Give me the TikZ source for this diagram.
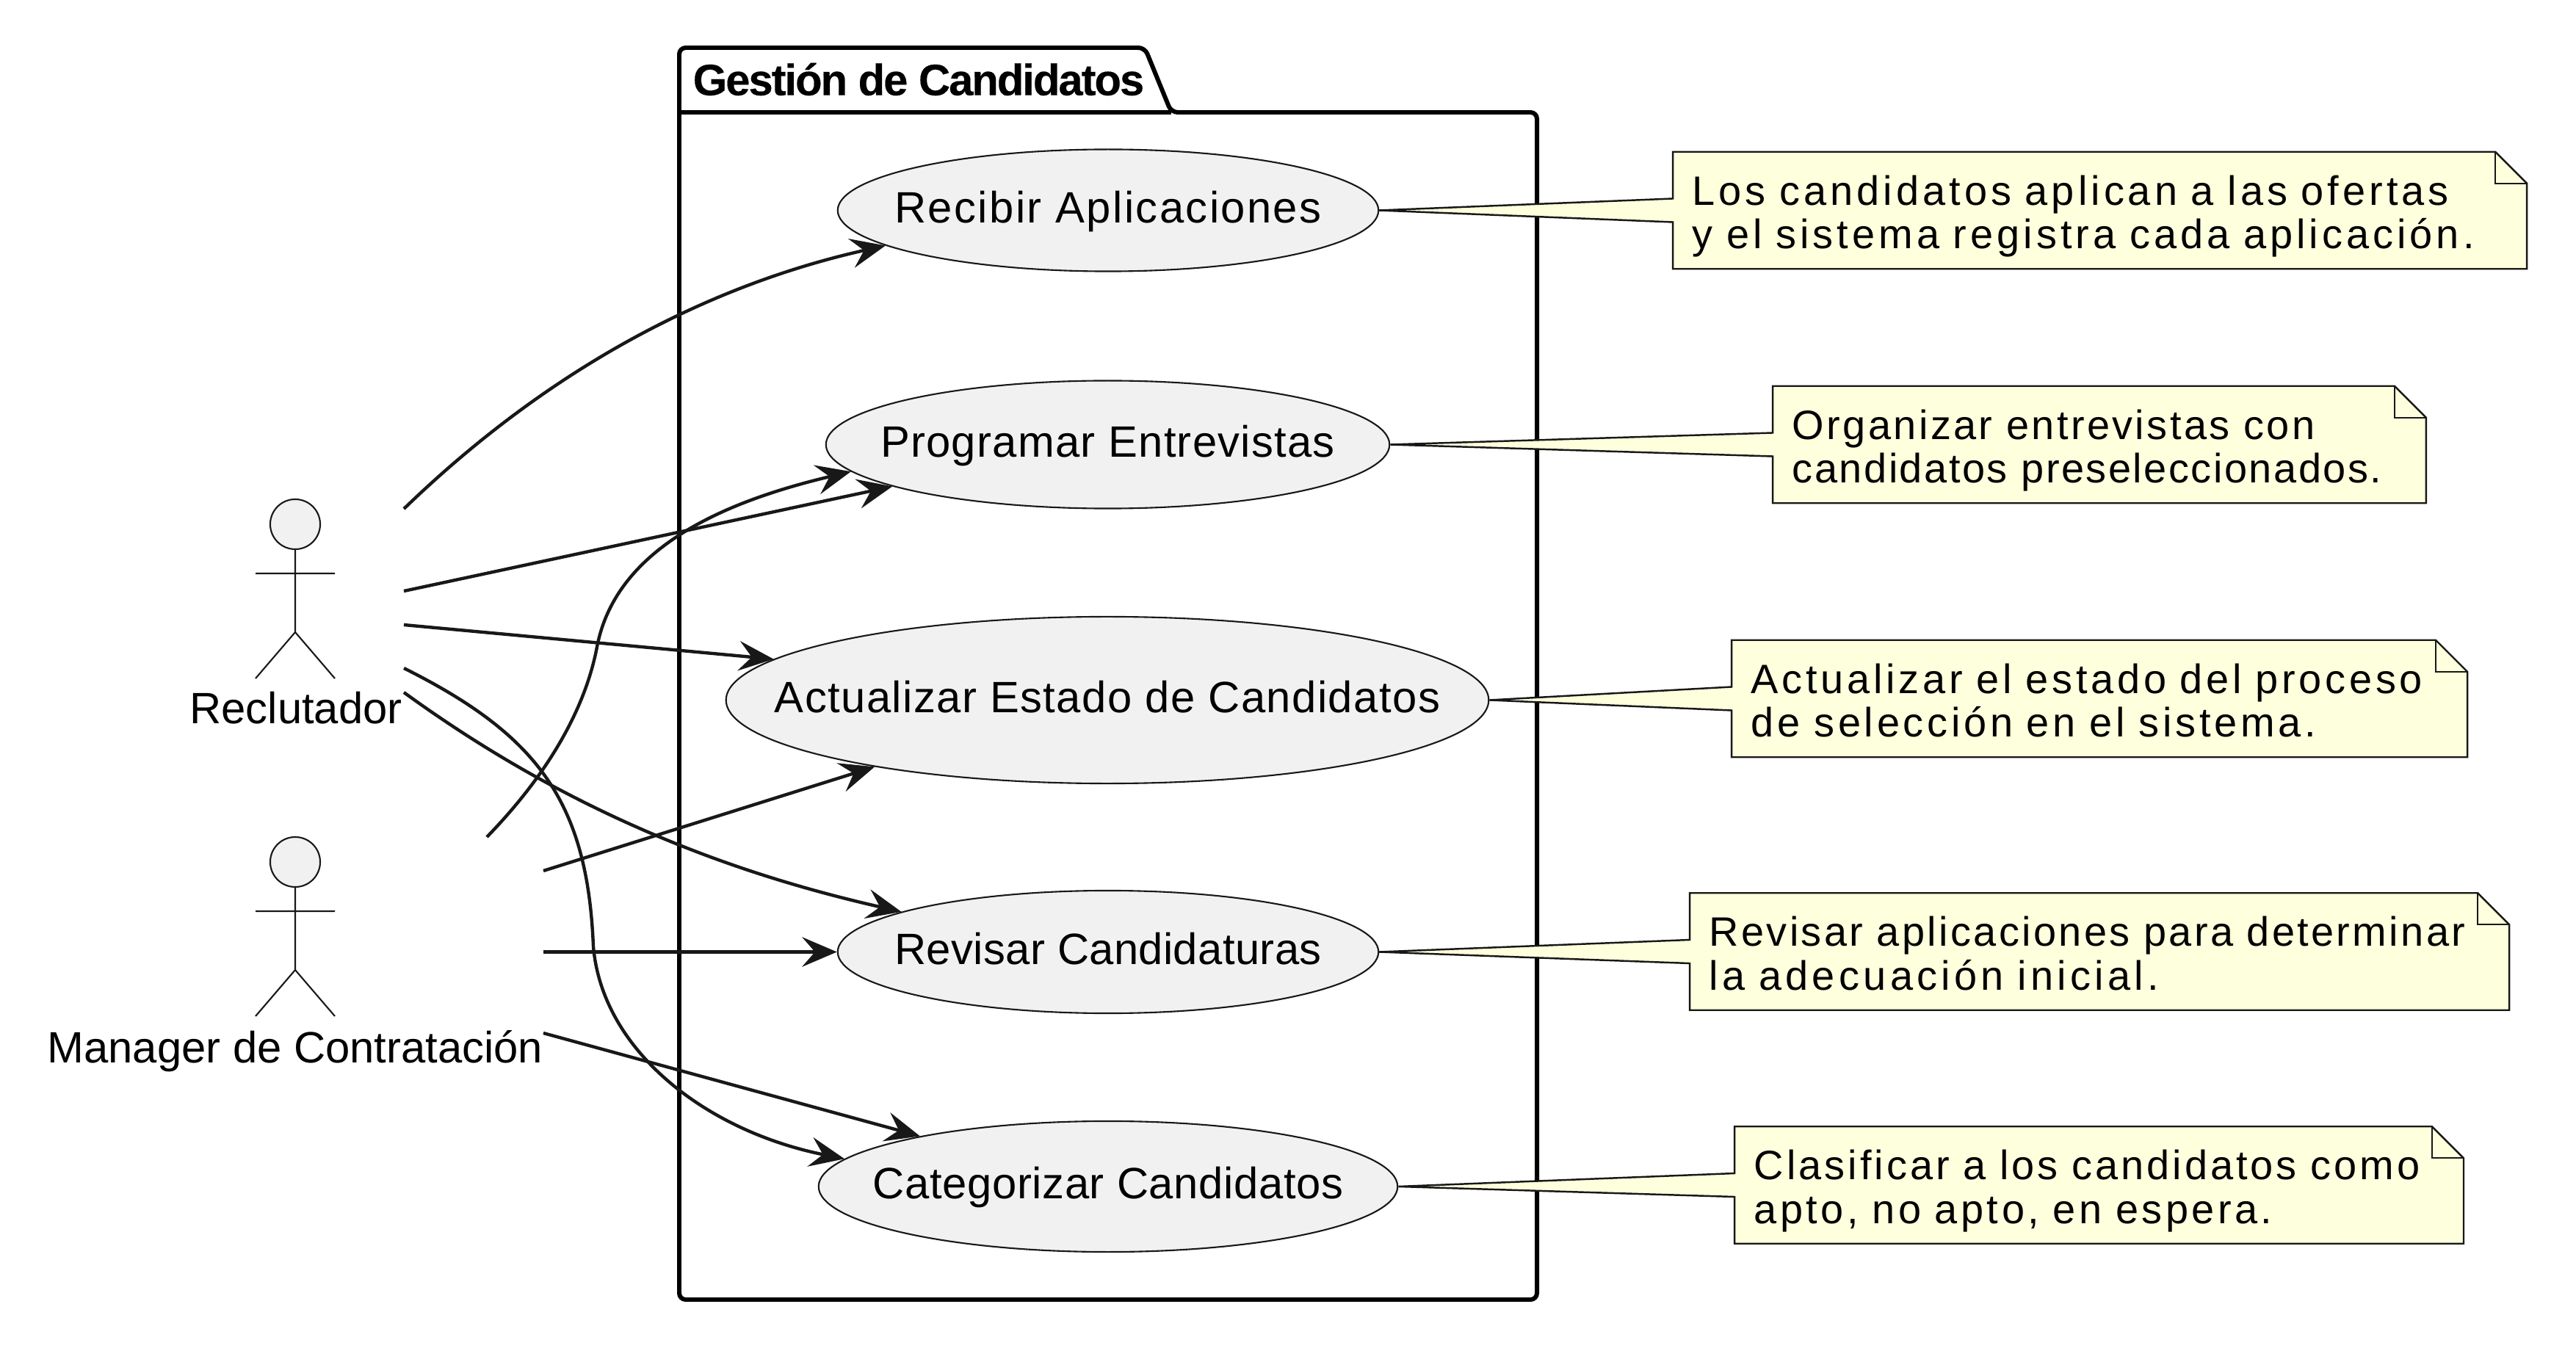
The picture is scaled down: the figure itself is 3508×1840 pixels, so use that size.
\documentclass[tikz,border=0pt]{standalone}
\usepackage{fontspec}
\setmainfont{Liberation Sans}
\usetikzlibrary{arrows.meta,shapes.geometric}
\definecolor{linegray}{HTML}{181818}
\definecolor{usefill}{HTML}{F1F1F1}
\definecolor{notefill}{HTML}{FEFFDD}
\pgfdeclarelayer{packlayer}
\pgfdeclarelayer{notelayer}
\pgfsetlayers{packlayer,notelayer,main}
\tikzset{
  usecase/.style={ellipse,draw=linegray,fill=usefill,line width=0.6pt,inner sep=-1.2cm,text height=13pt,text depth=3.6pt,
    font=\fontsize{17}{20}\selectfont\addfontfeature{LetterSpace=#1}},
  actorname/.style={inner sep=0pt,font=\fontsize{17}{20}\selectfont},
  notebox/.style 2 args={anchor=west,align=left,inner xsep=0.26cm,inner ysep=0pt,minimum height=1.58cm,text width=#1,
    text height=12pt,text depth=16pt,
    font=\fontsize{15.9}{16.8}\selectfont\addfontfeature{LetterSpace=#2}},
  noteline/.style={draw=linegray,fill=notefill,line width=0.7pt,line join=miter},
  link/.style={draw=linegray,line width=1.25pt,-{Stealth[length=13.5pt,width=11.5pt,inset=5pt]}},
  actorfig/.pic={
    \draw[linegray,line width=0.6pt,fill=usefill] (0,-34) circle(0.34cm);
    \draw[linegray,line width=0.6pt] (0,0) -- (0,113) (-54,33) -- (54,33) (-54,176) -- (0,113) -- (54,176);
  }
}
\begin{document}
\begin{tikzpicture}[x=0.01cm,y=-0.01cm]
  \useasboundingbox (0,0) rectangle (3508,1840);
  % package
  \begin{pgfonlayer}{packlayer}
    \draw[black,line width=1.7pt,rounded corners=2.5pt] (925,153) -- (925,65) -- (1559,65) -- (1595,153) -- (2093,153) -- (2093,1770) -- (925,1770) -- cycle;
    \draw[black,line width=1.7pt] (925,153) -- (1595,153);
  \end{pgfonlayer}
  \node[inner sep=0pt,anchor=west,font=\fontsize{17}{20}\selectfont\bfseries\addfontfeature{LetterSpace=-3.4,FakeBold=0.25}] (pkgtitle) at (943,108) {Gestión de Candidatos};
  % use cases
  \node[usecase=4,minimum width=7.36cm,minimum height=1.66cm] (recibir) at (1509,286.5) {Recibir Aplicaciones};
  \node[usecase=2.1,minimum width=7.67cm,minimum height=1.74cm] (programar) at (1508.5,605.5) {Programar Entrevistas};
  \node[usecase=2.4,minimum width=10.38cm,minimum height=2.27cm] (actualizar) at (1508,953.5) {Actualizar Estado de Candidatos};
  \node[usecase=0.6,minimum width=7.36cm,minimum height=1.67cm] (revisar) at (1509,1296.5) {Revisar Candidaturas};
  \node[usecase=1.1,minimum width=7.88cm,minimum height=1.78cm] (categorizar) at (1509,1616) {Categorizar Candidatos};
  % actors
  \pic at (402,748) {actorfig};
  \pic at (402,1208) {actorfig};
  \node[actorname] (reclutador) at (403,964) {Reclutador};
  \node[actorname] (manager) at (402,1432) {Manager de Contratación};
  \coordinate (recA) at (550,693);
  \coordinate (recB) at (550,805);
  \coordinate (recC) at (550,851);
  \coordinate (recD) at (550,910);
  \coordinate (recE) at (550,943);
  \coordinate (manA) at (663,1140);
  \coordinate (manB) at (740,1186);
  \coordinate (manC) at (740,1296.5);
  \coordinate (manD) at (740,1407);
  % connectors
  \draw[link] (recA) .. controls (760,490) and (980,385) .. (recibir.189.4);
  \draw[link] (recB) -- (programar.191.7);
  \draw[link] (recC) -- (actualizar.173.9);
  \draw[link] (recE) .. controls (780,1110) and (1000,1190) .. (revisar.169.4);
  \draw[link] (recD) .. controls (730,1000) and (800,1090) .. (808,1289) .. controls (820,1430) and (960,1540) .. (categorizar.174.3);
  \draw[link] (manA) .. controls (760,1040) and (800,950) .. (813,881) .. controls (840,740) and (1000,680) .. (programar.186);
  \draw[link] (manB) -- (actualizar.196);
  \draw[link] (manC) -- (revisar.west);
  \draw[link] (manD) -- (categorizar.165.8);
  % notes
  \node[notebox={11.09cm}{9}] (noteA) at (2278,286.5) {Los candidatos aplican a las ofertas\\y el sistema registra cada aplicación.};
  \node[notebox={8.36cm}{6.1}] (noteB) at (2414,605.5) {Organizar entrevistas con\\\addfontfeature{LetterSpace=4.5}candidatos preseleccionados.};
  \node[notebox={9.48cm}{8.5}] (noteC) at (2358,951.5) {Actualizar el estado del proceso\\de selección en el sistema.};
  \node[notebox={10.62cm}{6}] (noteD) at (2301,1296) {Revisar aplicaciones para determinar\\\addfontfeature{LetterSpace=9.5}la adecuación inicial.};
  \node[notebox={9.39cm}{7.2}] (noteE) at (2362,1614) {Clasificar a los candidatos como\\\addfontfeature{LetterSpace=8}apto, no apto, en espera.};
  \begin{pgfonlayer}{notelayer}
    \foreach \n/\u in {noteA/recibir,noteB/programar,noteC/actualizar,noteD/revisar,noteE/categorizar}{
      \draw[noteline] (\n.north west) -- ([xshift=-0.43cm]\n.north east) -- ([yshift=-0.43cm]\n.north east) -- (\n.south east) -- (\n.south west) -- ([yshift=-0.16cm]\n.west) -- (\u.east) -- ([yshift=0.16cm]\n.west) -- cycle;
      \draw[linegray,line width=0.6pt] ([xshift=-0.43cm]\n.north east) -- ([xshift=-0.43cm,yshift=-0.43cm]\n.north east) -- ([yshift=-0.43cm]\n.north east);
    }
  \end{pgfonlayer}
\end{tikzpicture}
\end{document}
